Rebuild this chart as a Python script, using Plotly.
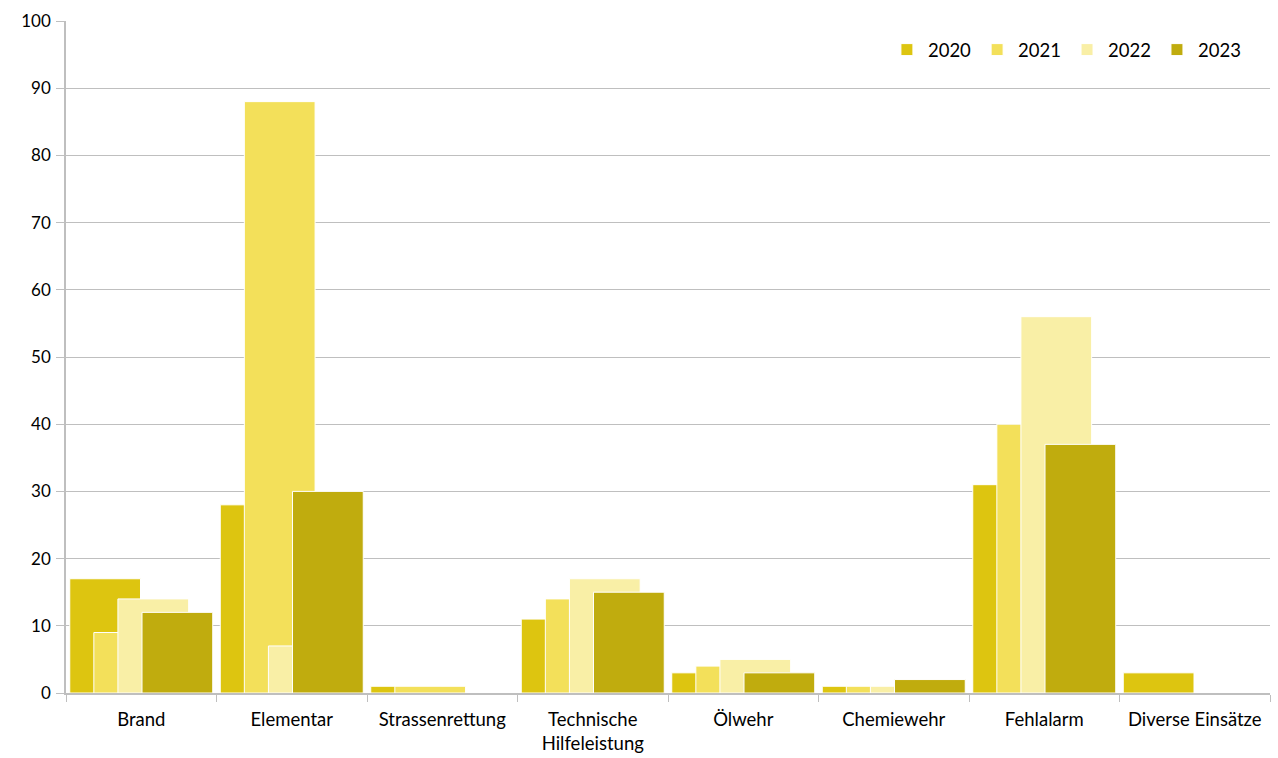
import plotly.graph_objects as go

categories = ["Brand", "Elementar", "Strassenrettung", "Technische<br>Hilfeleistung",
              "Ölwehr", "Chemiewehr", "Fehlalarm", "Diverse Einsätze"]
years = ["2020", "2021", "2022", "2023"]
v2020 = [17, 28, 1, 11, 3, 1, 31, 3]
v2021 = [9, 88, 1, 14, 4, 1, 40, 0]
v2022 = [14, 7, 0, 17, 5, 1, 56, 0]
v2023 = [12, 30, 0, 15, 3, 2, 37, 0]
series = [v2020, v2021, v2022, v2023]
colors = ["#DDC510", "#F3E05A", "#F9EFA6", "#C0AC0E"]
offsets = [-0.475, -0.315, -0.155, 0.005]
bar_width = 0.47

fig = go.Figure()
for name, vals, col, off in zip(years, series, colors, offsets):
    fig.add_trace(go.Bar(
        x=categories, y=vals, name=name,
        marker=dict(color=col, line=dict(color="white",
                                         width=[1 if v else 0 for v in vals])),
        width=bar_width, offset=off,
    ))

font_family = "Lato, Open Sans, sans-serif"
fig.update_layout(
    barmode="overlay",
    width=1278, height=758,
    margin=dict(l=66, r=8, t=21, b=65),
    plot_bgcolor="white", paper_bgcolor="white",
    font=dict(family=font_family, size=16, color="#000000"),
    legend=dict(orientation="h", x=0.98, xanchor="right", y=0.985, yanchor="top",
                font=dict(size=18.5), traceorder="normal", itemwidth=32,
                bgcolor="rgba(0,0,0,0)"),
    xaxis=dict(
        showgrid=False, showline=True, linecolor="#BFBFBF", linewidth=1.5,
        ticks="outside", tickson="boundaries", ticklen=7, tickcolor="#BFBFBF",
        tickfont=dict(size=18.5), range=[-0.5, 7.5], ticklabelstandoff=9,
        automargin=False,
    ),
    yaxis=dict(
        range=[0, 100], dtick=10, showgrid=True, gridcolor="#BFBFBF", gridwidth=1,
        showline=True, linecolor="#BFBFBF", linewidth=1.5,
        ticks="outside", ticklen=8, tickcolor="#BFBFBF",
        tickfont=dict(size=17), zeroline=False, ticklabelstandoff=2,
        automargin=False,
    ),
)
fig.write_html("out.html")
